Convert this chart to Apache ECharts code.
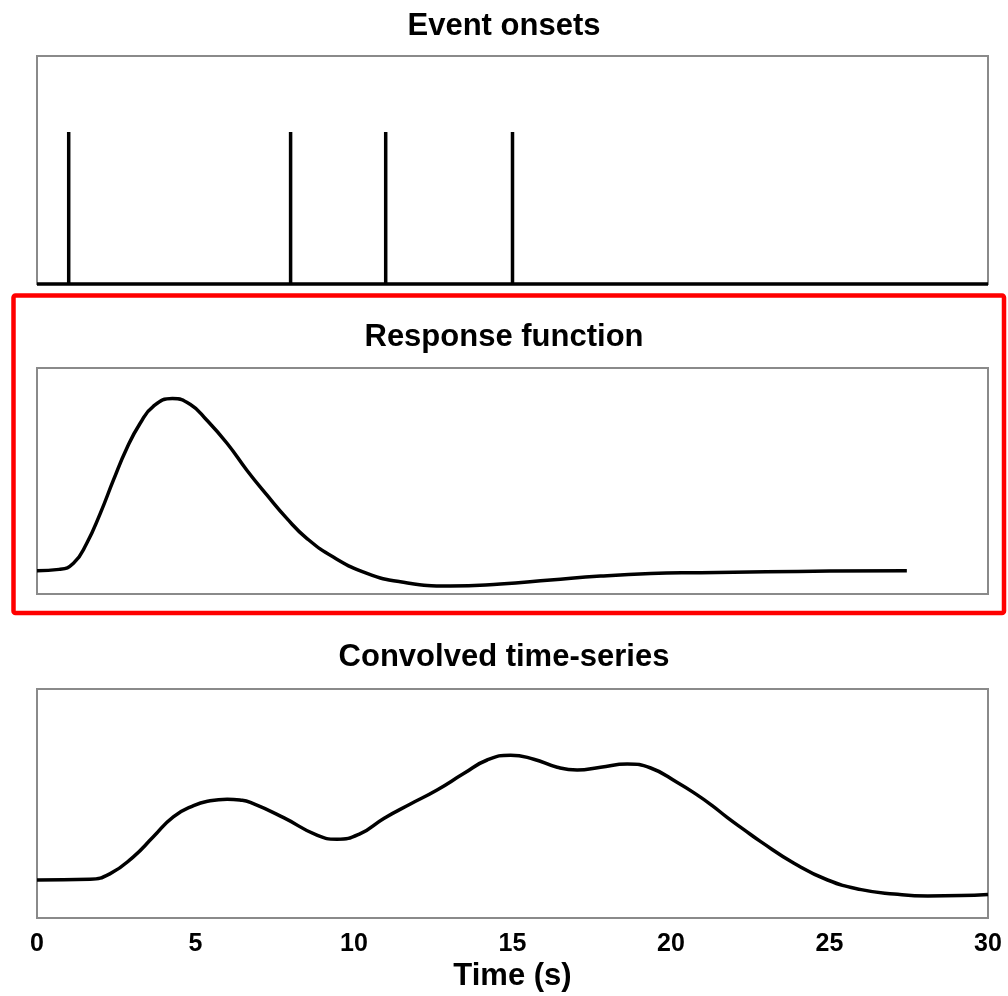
<!DOCTYPE html>
<html>
<head>
<meta charset="utf-8">
<title>Event onsets, response function and convolved time-series</title>
<script src="https://cdn.jsdelivr.net/npm/echarts@6/dist/echarts.min.js"></script>
<style>
  html, body { margin: 0; padding: 0; background: #fff; }
  #chart { width: 1008px; height: 996px; }
</style>
</head>
<body>
<div id="chart"></div>
<script>
// Panel titles and axis text
const panelTitles = ['Event onsets', 'Response function', 'Convolved time-series'];
const xAxisName = 'Time (s)';
const xTicks = [0, 5, 10, 15, 20, 25, 30];

// Event onset times (s), each a unit impulse
const eventTimes = [1, 8, 11, 15];
const eventAmplitude = 1;

// Haemodynamic response function samples
const hrfTime  = [0, 0.7, 1.15, 1.57, 2.0, 2.41, 2.83, 3.25, 3.67, 4.27, 4.83, 5.36, 6.0, 6.62, 7.25, 7.88, 8.5, 9.36, 10.41, 11.46, 13.04, 14.62, 16.2, 17.78, 19.36, 20.94, 23.0, 25.0, 27.44];
const hrfValue = [0, 0.008, 0.043, 0.16, 0.335, 0.526, 0.71, 0.855, 0.955, 1.0, 0.967, 0.874, 0.739, 0.584, 0.44, 0.304, 0.19, 0.078, -0.015, -0.064, -0.089, -0.077, -0.054, -0.031, -0.016, -0.011, -0.006, -0.002, 0];

// Convolved time-series samples
const convTime  = [0, 1.67, 2.31, 3.04, 3.67, 4.3, 4.94, 5.46, 6.0, 6.4, 6.73, 7.78, 8.83, 9.46, 10.2, 10.94, 11.78, 12.62, 13.46, 14.2, 14.94, 15.67, 16.41, 17.04, 17.78, 18.62, 19.36, 20.2, 20.8, 21.3, 21.78, 22.3, 22.83, 23.88, 24.94, 26.0, 27.04, 28.1, 29.15, 30];
const convValue = [0, 0.01, 0.08, 0.29, 0.54, 0.79, 0.93, 0.99, 1.01, 1.0, 0.97, 0.78, 0.56, 0.51, 0.58, 0.77, 0.95, 1.125, 1.33, 1.5, 1.56, 1.51, 1.41, 1.375, 1.41, 1.45, 1.4, 1.22, 1.07, 0.93, 0.78, 0.63, 0.48, 0.21, 0, -0.12, -0.175, -0.2, -0.195, -0.18];

// Impulse train: flat at zero with a vertical stroke at each onset
const spikeData = [[0, 0]];
eventTimes.forEach(function (t) {
  spikeData.push([t, 0], [t, eventAmplitude], [t, 0]);
});
spikeData.push([30, 0]);

const pairs = (xs, ys) => xs.map((x, i) => [x, ys[i]]);

const FONT = '"Liberation Sans", Arial, Helvetica, sans-serif';
const titleSize = 31;
const titleCenters = [26, 337.5, 657.5];

const gridBox = { left: 37, width: 951, show: true, borderColor: '#8a8a8a', borderWidth: 2, backgroundColor: 'transparent' };

function hiddenX(idx) {
  return {
    type: 'value', gridIndex: idx, min: 0, max: 30, interval: 5,
    axisLine: { show: false }, axisTick: { show: false },
    axisLabel: { show: false }, splitLine: { show: false }
  };
}
function hiddenY(idx, min, max) {
  return {
    type: 'value', gridIndex: idx, min: min, max: max,
    axisLine: { show: false }, axisTick: { show: false },
    axisLabel: { show: false }, splitLine: { show: false }
  };
}

const lineStyle = { color: '#000', width: 3.5, cap: 'butt', join: 'round' };

const option = {
  animation: false,
  backgroundColor: '#fff',
  title: panelTitles.map(function (text, i) {
    return {
      text: text,
      left: 'center',
      top: titleCenters[i] - 18,
      padding: 0,
      textStyle: { fontFamily: FONT, fontSize: titleSize, fontWeight: 'bold', color: '#000', lineHeight: 36 }
    };
  }),
  grid: [
    Object.assign({ top: 56, height: 228 }, gridBox),
    Object.assign({ top: 368, height: 226 }, gridBox),
    Object.assign({ top: 689, height: 229 }, gridBox)
  ],
  xAxis: [
    hiddenX(0),
    hiddenX(1),
    {
      type: 'value', gridIndex: 2, min: xTicks[0], max: xTicks[xTicks.length - 1], interval: 5,
      axisLine: { show: false }, axisTick: { show: false }, splitLine: { show: false },
      axisLabel: {
        show: true, margin: 14, color: '#000',
        fontFamily: FONT, fontSize: 25, fontWeight: 'bold'
      },
      name: xAxisName,
      nameLocation: 'middle',
      nameGap: 43,
      nameTextStyle: { fontFamily: FONT, fontSize: 31, fontWeight: 'bold', color: '#000' }
    }
  ],
  yAxis: [
    hiddenY(0, 0, 1.5),
    hiddenY(1, -0.135, 1.1775),
    hiddenY(2, -0.475, 2.3875)
  ],
  series: [
    {
      type: 'line', xAxisIndex: 0, yAxisIndex: 0, data: spikeData,
      showSymbol: false, clip: false,
      lineStyle: { color: '#000', width: 3.5, cap: 'butt', join: 'bevel' }
    },
    {
      type: 'line', xAxisIndex: 1, yAxisIndex: 1, data: pairs(hrfTime, hrfValue),
      showSymbol: false, smooth: 0.5, clip: false, lineStyle: lineStyle
    },
    {
      type: 'line', xAxisIndex: 2, yAxisIndex: 2, data: pairs(convTime, convValue),
      showSymbol: false, smooth: 0.5, clip: false, lineStyle: lineStyle
    }
  ],
  graphic: [
    {
      type: 'rect',
      shape: { x: 13.5, y: 295.5, width: 990.5, height: 317.5, r: 2 },
      style: { fill: 'none', stroke: '#ff0000', lineWidth: 4.5 },
      z: 100
    }
  ]
};

const chart = echarts.init(document.getElementById('chart'), null, { renderer: 'canvas' });
chart.setOption(option);
</script>
</body>
</html>
